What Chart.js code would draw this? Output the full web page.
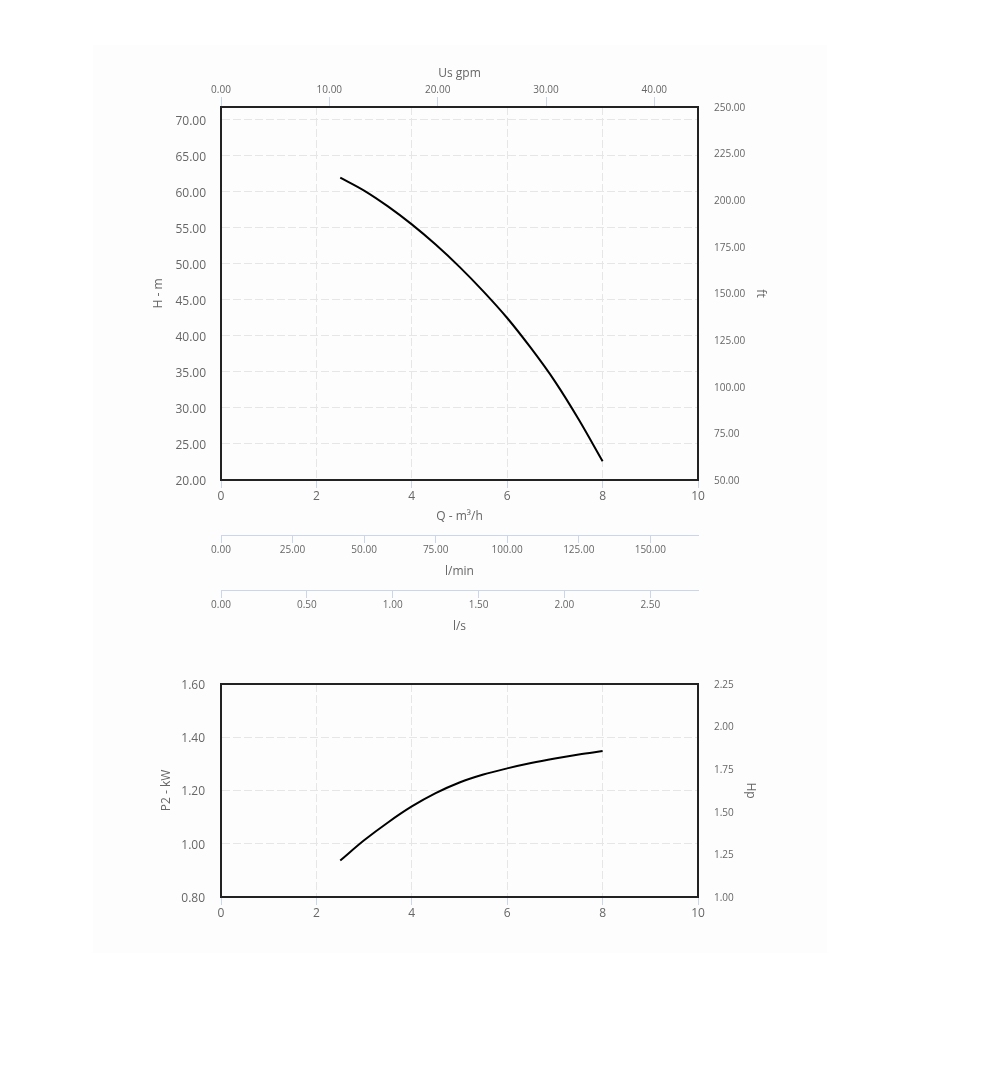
<!DOCTYPE html>
<html><head><meta charset="utf-8">
<script src="https://cdn.jsdelivr.net/npm/chart.js@4"></script>
<style>
body{margin:0;background:#fff;width:996px;height:1085px;position:relative;overflow:hidden}
#panel{position:absolute;left:93px;top:45px;width:734px;height:908px;background:#fdfdfd}
#w1{position:absolute;left:0;top:0;width:996px;height:650px}
#w2{position:absolute;left:0;top:660px;width:996px;height:280px}
canvas{display:block}
</style></head><body>
<div id="panel"></div>
<div id="w1"><canvas id="c1" width="996" height="650"></canvas></div>
<div id="w2"><canvas id="c2" width="996" height="280"></canvas></div>
<script>
// ---- data ----
const flowQ   = [2.5, 3, 3.5, 4, 4.5, 5, 5.5, 6, 6.5, 7, 7.5, 8];
const headH   = [62.0, 60.2, 58.0, 55.5, 52.7, 49.6, 46.2, 42.5, 38.3, 33.7, 28.4, 22.6];
const powerP2 = [0.937, 1.013, 1.080, 1.140, 1.190, 1.230, 1.260, 1.283, 1.303, 1.320, 1.335, 1.348];

// ---- tick labels ----
const qTicks    = [0, 2, 4, 6, 8, 10];
const headTicks = [20, 25, 30, 35, 40, 45, 50, 55, 60, 65, 70];
const ftTicks   = [50, 75, 100, 125, 150, 175, 200, 225, 250];
const gpmTicks  = [0, 10, 20, 30, 40];
const lminTicks = [0, 25, 50, 75, 100, 125, 150];
const lsTicks   = [0, 0.5, 1.0, 1.5, 2.0, 2.5];
const p2Ticks   = [0.8, 1.0, 1.2, 1.4, 1.6];
const hpTicks   = [1.0, 1.25, 1.5, 1.75, 2.0, 2.25];

// ---- axis ranges ----
const qMax = 10, gpmMax = 44.03, lminMax = 166.67, lsMax = 2.778;
const headMin = 20, headMax = 71.8, ftMin = 50, ftMax = 250;
const p2Min = 0.8, p2Max = 1.6, hpMin = 1.0, hpMax = 2.25;

Chart.defaults.font.family = "'Open Sans', sans-serif";
Chart.defaults.color = '#666';
const GRID = '#e6e6e6', TICK = '#ccd6eb', FRAME = '#222', DASH = [8, 3];
const fixW = w => s => { s.width = w; };
const fixH = h => s => { s.height = h; };
const setTicks = arr => s => { s.ticks = arr.map(v => ({value: v})); };
const f2 = v => Number(v).toFixed(2);
const common = {responsive:false, animation:false, plugins:{legend:{display:false}, tooltip:{enabled:false}}};

new Chart(document.getElementById('c1'), {
  type: 'line',
  data: { datasets: [{
    data: flowQ.map((q, i) => ({x: q, y: headH[i]})),
    borderColor: '#000', borderWidth: 2, pointRadius: 0, fill: false,
    cubicInterpolationMode: 'monotone', xAxisID: 'x', yAxisID: 'y'
  }]},
  options: Object.assign({}, common, {
    layout: {padding: {top: 50, left: 140, right: 221, bottom: 5}},
    scales: {
      x: {type:'linear', position:'bottom', min:0, max:qMax,
        afterBuildTicks:setTicks(qTicks), afterFit:fixH(55),
        border:{color:FRAME, width:2, dash:DASH},
        grid:{color:GRID, tickColor:TICK, tickLength:8, tickBorderDash:[]},
        ticks:{padding:1, font:{size:12}, callback:v=>String(v)},
        title:{display:true, text:'Q - m³/h', font:{size:12}, padding:{top:0, bottom:11}}},
      xl: {type:'linear', position:'bottom', min:0, max:lminMax,
        afterBuildTicks:setTicks(lminTicks), afterFit:fixH(55),
        border:{color:TICK, width:1},
        grid:{drawOnChartArea:false, color:TICK, tickColor:TICK, tickLength:8},
        ticks:{padding:1, font:{size:10}, callback:f2},
        title:{display:true, text:'l/min', font:{size:12}, padding:{top:0, bottom:11}}},
      xs: {type:'linear', position:'bottom', min:0, max:lsMax,
        afterBuildTicks:setTicks(lsTicks), afterFit:fixH(55),
        border:{color:TICK, width:1},
        grid:{drawOnChartArea:false, color:TICK, tickColor:TICK, tickLength:8},
        ticks:{padding:1, font:{size:10}, callback:f2},
        title:{display:true, text:'l/s', font:{size:12}, padding:{top:0, bottom:11}}},
      xg: {type:'linear', position:'top', min:0, max:gpmMax,
        afterBuildTicks:setTicks(gpmTicks), afterFit:fixH(57),
        border:{color:FRAME, width:2},
        grid:{drawOnChartArea:false, color:TICK, tickColor:TICK, tickLength:10},
        ticks:{padding:1, font:{size:10}, callback:f2},
        title:{display:true, text:'Us gpm', font:{size:12}, padding:{top:16.5, bottom:0}}},
      y: {type:'linear', position:'left', min:headMin, max:headMax,
        afterBuildTicks:setTicks(headTicks), afterFit:fixW(81),
        border:{color:FRAME, width:2, dash:DASH},
        grid:{color:GRID, drawTicks:false},
        ticks:{padding:15, labelOffset:1.5, font:{size:12}, callback:f2},
        title:{display:true, text:'H - m', font:{size:12}, padding:{top:11.8, bottom:0}}},
      yf: {type:'linear', position:'right', min:ftMin, max:ftMax,
        afterBuildTicks:setTicks(ftTicks), afterFit:fixW(77),
        border:{color:FRAME, width:2},
        grid:{drawOnChartArea:false, drawTicks:false},
        ticks:{padding:16, labelOffset:1, font:{size:10}, callback:f2},
        title:{display:true, text:'ft', font:{size:12}, padding:{top:7.8, bottom:0}}}
    }
  })
});

new Chart(document.getElementById('c2'), {
  type: 'line',
  data: { datasets: [{
    data: flowQ.map((q, i) => ({x: q, y: powerP2[i]})),
    borderColor: '#000', borderWidth: 2, pointRadius: 0, fill: false,
    cubicInterpolationMode: 'monotone', xAxisID: 'x', yAxisID: 'y'
  }]},
  options: Object.assign({}, common, {
    layout: {padding: {top: 24, left: 150, right: 238, bottom: 13}},
    scales: {
      x: {type:'linear', position:'bottom', min:0, max:qMax,
        afterBuildTicks:setTicks(qTicks), afterFit:fixH(30),
        border:{color:FRAME, width:2, dash:DASH},
        grid:{color:GRID, tickColor:TICK, tickLength:8, tickBorderDash:[]},
        ticks:{padding:1, font:{size:12}, callback:v=>String(v)}},
      xt: {type:'linear', position:'top', min:0, max:qMax, afterFit:fixH(0),
        border:{color:FRAME, width:2},
        grid:{drawOnChartArea:false, drawTicks:false},
        ticks:{display:false}},
      y: {type:'linear', position:'left', min:p2Min, max:p2Max,
        afterBuildTicks:setTicks(p2Ticks), afterFit:fixW(71),
        border:{color:FRAME, width:2, dash:DASH},
        grid:{color:GRID, drawTicks:false},
        ticks:{padding:16, labelOffset:1.5, font:{size:12}, callback:f2},
        title:{display:true, text:'P2 - kW', font:{size:12}, padding:{top:9.8, bottom:0}}},
      yh: {type:'linear', position:'right', min:hpMin, max:hpMax,
        afterBuildTicks:setTicks(hpTicks), afterFit:fixW(60),
        border:{color:FRAME, width:2},
        grid:{drawOnChartArea:false, drawTicks:false},
        ticks:{padding:16, labelOffset:1, font:{size:10}, callback:f2},
        title:{display:true, text:'Hp', font:{size:12}, padding:{top:0.8, bottom:0}}}
    }
  })
});
</script>
</body></html>
